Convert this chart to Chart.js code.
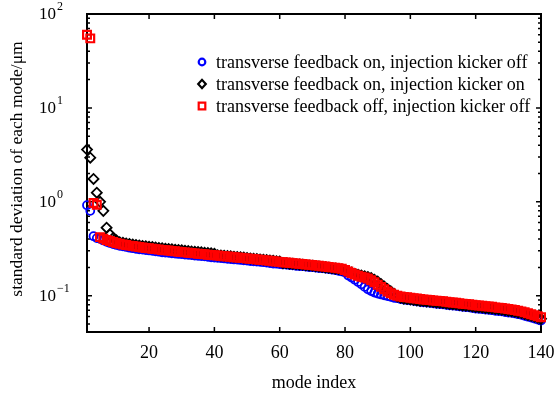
<!DOCTYPE html>
<html>
<head>
<meta charset="utf-8">
<script src="https://cdn.jsdelivr.net/npm/chart.js@4/dist/chart.umd.min.js"></script>
<style>
  html, body { margin: 0; padding: 0; background: #fff; }
</style>
</head>
<body>
<canvas id="modes" width="558" height="393"></canvas>
<script>
// standard deviation of each mode (um), mode index 1..140
const fbOnKickerOff = [
  0.92, 0.80, 0.43, 0.41, 0.404, 0.387, 0.375, 0.364, 0.354, 0.347,
  0.340, 0.335, 0.330, 0.324, 0.320, 0.316, 0.312, 0.309, 0.306, 0.303,
  0.300, 0.297, 0.294, 0.290, 0.288, 0.286, 0.283, 0.281, 0.278, 0.277,
  0.274, 0.272, 0.270, 0.267, 0.266, 0.264, 0.262, 0.259, 0.256, 0.254,
  0.253, 0.251, 0.249, 0.247, 0.245, 0.243, 0.242, 0.240, 0.238, 0.236,
  0.234, 0.232, 0.231, 0.229, 0.227, 0.225, 0.222, 0.220, 0.219, 0.217,
  0.215, 0.214, 0.212, 0.210, 0.208, 0.207, 0.206, 0.204, 0.202, 0.201,
  0.199, 0.197, 0.196, 0.194, 0.192, 0.190, 0.187, 0.184, 0.181, 0.176,
  0.164, 0.156, 0.148, 0.140, 0.132, 0.124, 0.117, 0.112, 0.108, 0.105,
  0.103, 0.101, 0.099, 0.097, 0.095, 0.094, 0.092, 0.091, 0.090, 0.089,
  0.088, 0.087, 0.086, 0.085, 0.0845, 0.084, 0.083, 0.082, 0.0815, 0.081,
  0.080, 0.079, 0.0785, 0.078, 0.077, 0.076, 0.0755, 0.075, 0.074, 0.073,
  0.0725, 0.072, 0.071, 0.0705, 0.070, 0.069, 0.0685, 0.068, 0.067, 0.066,
  0.0655, 0.0646, 0.0635, 0.0625, 0.061, 0.0597, 0.0583, 0.0569, 0.0556, 0.0542
];
const fbOnKickerOn = [
  3.6, 2.95, 1.75, 1.25, 1.0, 0.80, 0.53, 0.45, 0.41, 0.39,
  0.371, 0.365, 0.360, 0.355, 0.350, 0.346, 0.342, 0.338, 0.335, 0.332,
  0.329, 0.326, 0.322, 0.319, 0.316, 0.314, 0.311, 0.309, 0.306, 0.304,
  0.301, 0.298, 0.296, 0.293, 0.291, 0.289, 0.287, 0.284, 0.282, 0.279,
  0.270, 0.268, 0.266, 0.264, 0.262, 0.260, 0.258, 0.256, 0.254, 0.251,
  0.249, 0.247, 0.245, 0.243, 0.241, 0.239, 0.237, 0.235, 0.233, 0.231,
  0.222, 0.221, 0.219, 0.218, 0.216, 0.215, 0.213, 0.211, 0.209, 0.208,
  0.206, 0.204, 0.202, 0.200, 0.198, 0.196, 0.194, 0.192, 0.190, 0.186,
  0.181, 0.176, 0.171, 0.167, 0.164, 0.161, 0.158, 0.154, 0.148, 0.141,
  0.133, 0.125, 0.118, 0.111, 0.105, 0.098, 0.095, 0.093, 0.092, 0.091,
  0.090, 0.089, 0.088, 0.0875, 0.0868, 0.0864, 0.0854, 0.0845, 0.084, 0.0835,
  0.0826, 0.0816, 0.0811, 0.0806, 0.0797, 0.0787, 0.0782, 0.0778, 0.0768, 0.0758,
  0.0754, 0.0749, 0.0739, 0.0734, 0.073, 0.072, 0.0715, 0.071, 0.070, 0.0691,
  0.0684, 0.0675, 0.0662, 0.0653, 0.0638, 0.0624, 0.061, 0.0595, 0.0581, 0.0566
];
const fbOffKickerOff = [
  60, 55, 0.97, 0.93, 0.420, 0.405, 0.392, 0.381, 0.372, 0.364,
  0.357, 0.351, 0.346, 0.341, 0.337, 0.333, 0.329, 0.325, 0.322, 0.319,
  0.316, 0.313, 0.310, 0.307, 0.304, 0.302, 0.299, 0.297, 0.294, 0.292,
  0.289, 0.287, 0.285, 0.282, 0.280, 0.278, 0.276, 0.273, 0.271, 0.269,
  0.267, 0.265, 0.263, 0.261, 0.259, 0.257, 0.255, 0.253, 0.251, 0.249,
  0.247, 0.245, 0.243, 0.241, 0.239, 0.237, 0.235, 0.233, 0.231, 0.229,
  0.227, 0.226, 0.224, 0.222, 0.220, 0.219, 0.217, 0.215, 0.213, 0.212,
  0.210, 0.208, 0.206, 0.204, 0.202, 0.200, 0.198, 0.196, 0.193, 0.188,
  0.181, 0.174, 0.168, 0.163, 0.159, 0.156, 0.152, 0.146, 0.139, 0.131,
  0.124, 0.117, 0.111, 0.106, 0.102, 0.100, 0.098, 0.097, 0.096, 0.095,
  0.094, 0.093, 0.092, 0.091, 0.0905, 0.090, 0.089, 0.088, 0.0875, 0.087,
  0.086, 0.085, 0.0845, 0.084, 0.083, 0.082, 0.0815, 0.081, 0.080, 0.079,
  0.0785, 0.078, 0.077, 0.0765, 0.076, 0.075, 0.0745, 0.074, 0.073, 0.072,
  0.0712, 0.0703, 0.069, 0.068, 0.0665, 0.065, 0.0635, 0.062, 0.0605, 0.059
];
const seriesNames = [
  'transverse feedback on, injection kicker off',
  'transverse feedback on, injection kicker on',
  'transverse feedback off, injection kicker off'
];
const xTicks = [20, 40, 60, 80, 100, 120, 140];
const yDecades = [-1, 0, 1, 2];

const serif = '"Liberation Serif", "Times New Roman", serif';
const toPoints = vals => vals.map((v, i) => ({ x: i + 1, y: v }));

// MATLAB-style boxed axes: inward ticks, log minor ticks, superscript labels, inset legend
const boxAxes = {
  id: 'boxAxes',
  beforeDatasetsDraw(chart) {
    const { ctx, chartArea: a, scales: { x, y } } = chart;
    ctx.save();
    ctx.strokeStyle = '#000';
    ctx.lineWidth = 1.5;
    ctx.beginPath();
    xTicks.forEach(v => {
      const px = x.getPixelForValue(v);
      ctx.moveTo(px, a.bottom); ctx.lineTo(px, a.bottom - 5);
      ctx.moveTo(px, a.top); ctx.lineTo(px, a.top + 5);
    });
    for (let d = -2; d <= 2; d++) {
      for (let m = 1; m <= 9; m++) {
        const v = m * Math.pow(10, d);
        if (v < y.min || v > y.max) continue;
        const py = y.getPixelForValue(v);
        const len = m === 1 ? 5 : 3;
        ctx.moveTo(a.left, py); ctx.lineTo(a.left + len, py);
        ctx.moveTo(a.right, py); ctx.lineTo(a.right - len, py);
      }
    }
    ctx.stroke();
    ctx.lineWidth = 2;
    ctx.strokeRect(a.left, a.top, a.right - a.left, a.bottom - a.top);
    ctx.restore();
  },
  afterDraw(chart) {
    const { ctx, chartArea: a, scales: { x, y } } = chart;
    ctx.save();
    ctx.fillStyle = '#000';

    ctx.font = '18px ' + serif;
    ctx.textAlign = 'center';
    ctx.textBaseline = 'middle';
    xTicks.forEach(v => ctx.fillText(String(v), x.getPixelForValue(v), 353));

    yDecades.forEach(d => {
      const py = y.getPixelForValue(Math.pow(10, d));
      ctx.font = '17px ' + serif;
      ctx.textAlign = 'right';
      ctx.textBaseline = 'middle';
      ctx.fillText('10', 56, py + 1);
      ctx.font = '12px ' + serif;
      ctx.textAlign = 'left';
      ctx.fillText(d < 0 ? '\u2212' + Math.abs(d) : String(d), 57, py - 7);
    });

    ctx.font = '18px ' + serif;
    ctx.textAlign = 'center';
    ctx.textBaseline = 'middle';
    ctx.fillText('mode index', (a.left + a.right) / 2, 383);

    ctx.save();
    ctx.font = '17.5px ' + serif;
    ctx.translate(17, (a.top + a.bottom) / 2 - 4);
    ctx.rotate(-Math.PI / 2);
    ctx.fillText('standard deviation of each mode/\u03bcm', 0, 0);
    ctx.restore();

    // inset legend
    const rows = [62, 84, 106];
    const mx = 202;
    ctx.lineWidth = 2.2;
    chart.data.datasets.forEach((ds, i) => {
      const cy = rows[i];
      ctx.strokeStyle = ds.borderColor;
      ctx.beginPath();
      if (ds.pointStyle === 'circle') {
        ctx.arc(mx, cy, 3.3, 0, Math.PI * 2);
      } else if (ds.pointStyle === 'rectRot') {
        ctx.moveTo(mx - 3.8, cy); ctx.lineTo(mx, cy - 4.2);
        ctx.lineTo(mx + 3.8, cy); ctx.lineTo(mx, cy + 4.2);
        ctx.closePath();
      } else {
        ctx.rect(mx - 3.3, cy - 3.3, 6.6, 6.6);
      }
      ctx.stroke();
      ctx.fillStyle = '#000';
      ctx.font = '18px ' + serif;
      ctx.textAlign = 'left';
      ctx.textBaseline = 'middle';
      ctx.fillText(ds.label, 216, cy + 1);
    });
    ctx.restore();
  }
};

new Chart(document.getElementById('modes'), {
  type: 'scatter',
  data: {
    datasets: [
      {
        label: seriesNames[0],
        data: toPoints(fbOnKickerOff),
        pointStyle: 'circle',
        borderColor: '#0000ff',
        backgroundColor: 'rgba(0,0,0,0)',
        pointRadius: 4,
        pointBorderWidth: 1.8,
        order: 3,
        clip: false
      },
      {
        label: seriesNames[1],
        data: toPoints(fbOnKickerOn),
        pointStyle: 'rectRot',
        borderColor: '#000000',
        backgroundColor: 'rgba(0,0,0,0)',
        pointRadius: 5,
        pointBorderWidth: 1.8,
        order: 2,
        clip: false
      },
      {
        label: seriesNames[2],
        data: toPoints(fbOffKickerOff),
        pointStyle: 'rect',
        borderColor: '#ff0000',
        backgroundColor: 'rgba(0,0,0,0)',
        pointRadius: 5.5,
        pointBorderWidth: 2.2,
        order: 1,
        clip: false
      }
    ]
  },
  options: {
    responsive: false,
    animation: false,
    layout: { padding: { left: 87, right: 17, top: 14, bottom: 61 } },
    plugins: { legend: { display: false }, tooltip: { enabled: false } },
    scales: {
      x: { type: 'linear', min: 1, max: 140, display: false },
      y: { type: 'logarithmic', min: 0.041, max: 100, display: false }
    }
  },
  plugins: [boxAxes]
});
</script>
</body>
</html>
